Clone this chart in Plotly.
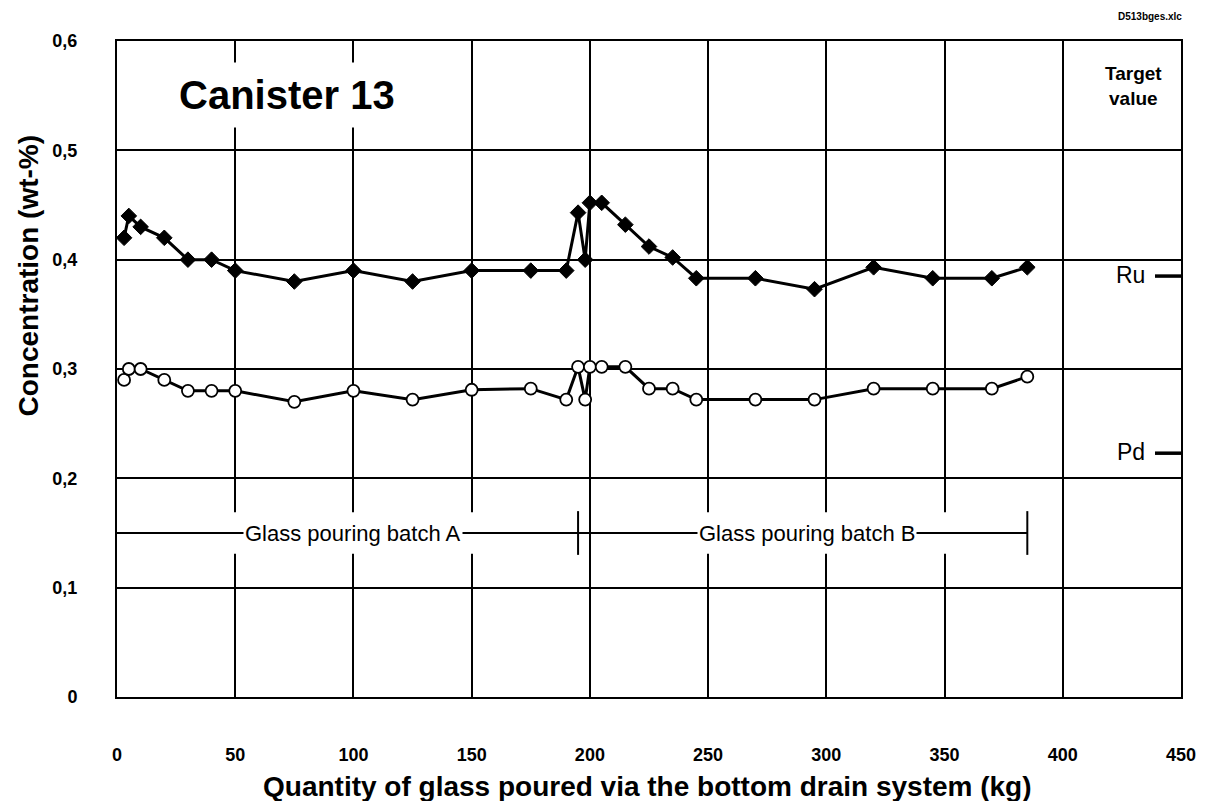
import plotly.graph_objects as go

# ---- data ----
ru_x = [3, 5, 10, 20, 30, 40, 50, 75, 100, 125, 150, 175, 190, 195, 198, 200, 205,
        215, 225, 235, 245, 270, 295, 320, 345, 370, 385]
ru_y = [0.42, 0.44, 0.43, 0.42, 0.40, 0.40, 0.39, 0.38, 0.39, 0.38, 0.39, 0.39, 0.39,
        0.443, 0.40, 0.452, 0.452, 0.432, 0.412, 0.402, 0.383, 0.383, 0.373, 0.393,
        0.383, 0.383, 0.393]
pd_x = [3, 5, 10, 20, 30, 40, 50, 75, 100, 125, 150, 175, 190, 195, 198, 200, 205,
        215, 225, 235, 245, 270, 295, 320, 345, 370, 385]
pd_y = [0.29, 0.30, 0.30, 0.29, 0.28, 0.28, 0.28, 0.27, 0.28, 0.272, 0.281, 0.282, 0.272,
        0.302, 0.272, 0.302, 0.302, 0.302, 0.282, 0.282, 0.272, 0.272, 0.272, 0.282,
        0.282, 0.282, 0.293]

x_ticks = [0, 50, 100, 150, 200, 250, 300, 350, 400, 450]
x_ticklabels = ["0", "50", "100", "150", "200", "250", "300", "350", "400", "450"]
y_ticks = [0, 0.1, 0.2, 0.3, 0.4, 0.5, 0.6]
y_ticklabels = ["0", "0,1", "0,2", "0,3", "0,4", "0,5", "0,6"]

target_labels = ["Ru", "Pd"]
target_values = [0.385, 0.223]

batch_labels = ["Glass pouring batch A", "Glass pouring batch B"]
batch_start = [0, 195]
batch_end = [195, 385]
batch_label_x = [100, 292]
batch_level = 0.15

FONT = "Liberation Sans, Arial, sans-serif"

fig = go.Figure()

fig.add_trace(go.Scatter(
    x=ru_x, y=ru_y, mode="lines+markers", name="Ru",
    line=dict(color="black", width=3),
    marker=dict(symbol="diamond", size=12, color="black",
                line=dict(color="black", width=1)),
    showlegend=False,
))
fig.add_trace(go.Scatter(
    x=pd_x, y=pd_y, mode="lines+markers", name="Pd",
    line=dict(color="black", width=3),
    marker=dict(symbol="circle", size=12, color="white",
                line=dict(color="black", width=1.8)),
    showlegend=False,
))

shapes = []
# white masks interrupting the gridlines behind the batch labels
shapes.append(dict(type="rect", xref="x", yref="y", x0=1, x1=193, y0=0.131, y1=0.169,
                   fillcolor="white", line=dict(width=0), layer="above"))
shapes.append(dict(type="rect", xref="x", yref="y", x0=202, x1=383, y0=0.131, y1=0.169,
                   fillcolor="white", line=dict(width=0), layer="above"))
for s, e in zip(batch_start, batch_end):
    shapes.append(dict(type="line", xref="x", yref="y", x0=s, x1=e,
                       y0=batch_level, y1=batch_level,
                       line=dict(color="black", width=2), layer="above"))
    shapes.append(dict(type="line", xref="x", yref="y", x0=e, x1=e,
                       y0=batch_level - 0.02, y1=batch_level + 0.02,
                       line=dict(color="black", width=2), layer="above"))
# target value dashes
for v in target_values:
    shapes.append(dict(type="line", xref="x", yref="y", x0=439, x1=450, y0=v, y1=v,
                       line=dict(color="black", width=3.5), layer="above"))

annotations = []
annotations.append(dict(
    x=72, y=0.551, xref="x", yref="y", text="<b>Canister 13</b>", showarrow=False,
    font=dict(family=FONT, size=40, color="black"),
    bgcolor="white", borderpad=10, xanchor="center", yanchor="middle"))
annotations.append(dict(
    x=430, y=0.559, xref="x", yref="y", text="<b>Target<br>value</b>", showarrow=False,
    font=dict(family=FONT, size=19, color="black"), xanchor="center", yanchor="middle",
    align="center"))
for lab, v in zip(target_labels, target_values):
    annotations.append(dict(
        x=435.5, y=v + 0.001, xref="x", yref="y", text=lab, showarrow=False,
        font=dict(family=FONT, size=23, color="black"), xanchor="right",
        yanchor="middle"))
for lab, cx in zip(batch_labels, batch_label_x):
    annotations.append(dict(
        x=cx, y=batch_level, xref="x", yref="y",
        text=lab, showarrow=False,
        font=dict(family=FONT, size=22, color="black"),
        bgcolor="white", borderpad=1, xanchor="center", yanchor="middle"))
annotations.append(dict(
    x=1.003, y=1.038, xref="paper", yref="paper", text="<b>D513bges.xlc</b>",
    showarrow=False, font=dict(family=FONT, size=10, color="black"),
    xanchor="right", yanchor="middle"))
annotations.append(dict(
    x=0.4986, y=-0.137, xref="paper", yref="paper",
    text="<b>Quantity of glass poured via the bottom drain system (kg)</b>",
    showarrow=False, font=dict(family=FONT, size=28, color="black"),
    xanchor="center", yanchor="middle"))
annotations.append(dict(
    x=-0.0834, y=0.643, xref="paper", yref="paper",
    text="<b>Concentration (wt-%)</b>", textangle=-90,
    showarrow=False, font=dict(family=FONT, size=28, color="black"),
    xanchor="center", yanchor="middle"))

fig.update_layout(
    width=1208, height=801,
    margin=dict(l=117, r=24, t=41, b=104),
    paper_bgcolor="white", plot_bgcolor="white",
    font=dict(family=FONT, color="black"),
    shapes=shapes, annotations=annotations,
    xaxis=dict(
        range=[0, 450], tickmode="array", tickvals=x_ticks, ticktext=x_ticklabels,
        showgrid=True, gridcolor="black", gridwidth=2,
        showline=True, linecolor="black", linewidth=2, mirror=True,
        ticks="", zeroline=False, ticklabelstandoff=40,
        tickfont=dict(family=FONT, size=18, color="black", weight="bold"),
    ),
    yaxis=dict(
        range=[0, 0.6], tickmode="array", tickvals=y_ticks, ticktext=y_ticklabels,
        showgrid=True, gridcolor="black", gridwidth=2,
        showline=True, linecolor="black", linewidth=2, mirror=True,
        ticks="", zeroline=False, ticklabelstandoff=34,
        tickfont=dict(family=FONT, size=18, color="black", weight="bold"),
    ),
)

fig.write_html("out.html")
